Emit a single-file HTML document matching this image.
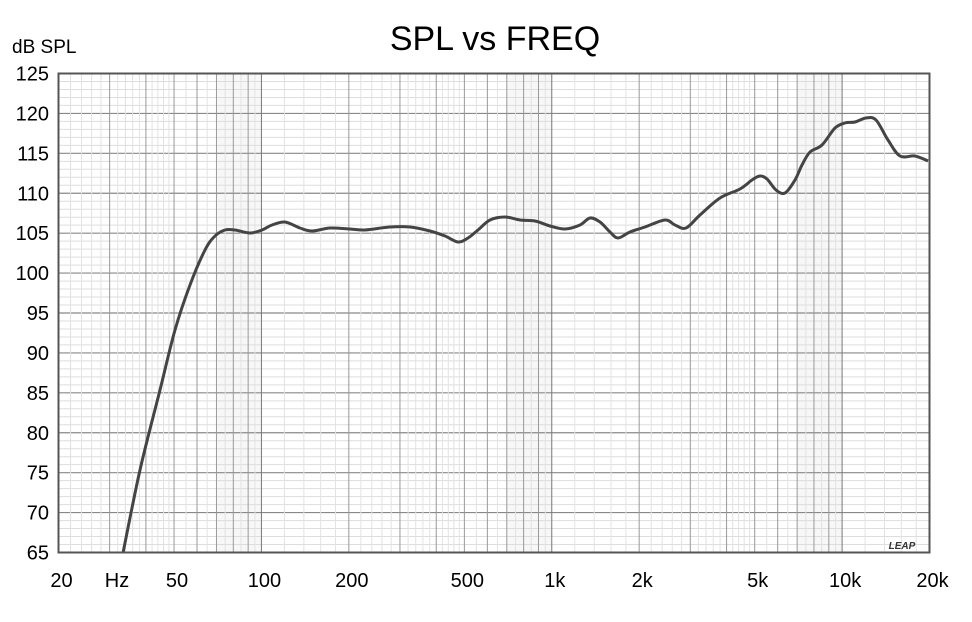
<!DOCTYPE html>
<html><head><meta charset="utf-8"><style>
body{margin:0;background:#fff;}
svg{display:block;font-family:"Liberation Sans",sans-serif;}
</style></head><body>
<svg id="s" width="972" height="622" xmlns="http://www.w3.org/2000/svg">
<text x="495" y="50" font-size="34" text-anchor="middle" fill="#000">SPL vs FREQ</text>
<text x="12" y="53" font-size="19" fill="#000">dB SPL</text>
<g id="grid"></g>
<path id="curve" fill="none" stroke="#444" stroke-width="3" stroke-linejoin="round" d=""/>
<rect x="58.5" y="73.5" width="871" height="479" fill="none" stroke="#555" stroke-width="2"/>
<text x="902" y="549" font-size="10" font-weight="bold" font-style="italic" text-anchor="middle" fill="#333">LEAP</text>
<g id="lab" font-size="20" fill="#000"></g>
</svg>
<script>
var ns="http://www.w3.org/2000/svg";
var L=58.5,R=929.5,T=73.5,B=552.5;
var pd=(R-L)/3;
function fx(f){return L+pd*Math.log10(f/20);}
var g=document.getElementById('grid'),lab=document.getElementById('lab');
function line(x1,y1,x2,y2,c,w){var l=document.createElementNS(ns,'line');l.setAttribute('x1',x1);l.setAttribute('y1',y1);l.setAttribute('x2',x2);l.setAttribute('y2',y2);l.setAttribute('stroke',c);l.setAttribute('stroke-width',w);g.appendChild(l);}
function txt(x,y,s,a){var t=document.createElementNS(ns,'text');t.setAttribute('x',x);t.setAttribute('y',y);t.setAttribute('text-anchor',a);t.textContent=s;lab.appendChild(t);}
[[70,100],[700,1000],[7000,10000]].forEach(function(b){var r=document.createElementNS(ns,'rect');r.setAttribute('x',fx(b[0]));r.setAttribute('y',T);r.setAttribute('width',fx(b[1])-fx(b[0]));r.setAttribute('height',B-T);r.setAttribute('fill','#f7f7f7');g.appendChild(r);});
for(var d=65;d<=125;d++){var y=B-(d-65)*(B-T)/60;if(d%5==0){line(L,y,R,y,'#888',1.2);txt(49,y+7,String(d),'end');}else line(L,y,R,y,'#ddd',1);}
var decs=[10,100,1000,10000];
decs.forEach(function(dec){for(var m=1;m<10;m++){var f=m*dec;
 var step=m<5?0.2:0.5;
 for(var s=m+step;s<m+1-1e-9;s+=step){var ff=s*dec;if(ff>20&&ff<20000){var x=fx(ff);line(x,T,x,B,'#e2e2e2',1);}}
 if(f>20&&f<20000){var x=fx(f);line(x,T,x,B,m==1?'#777':'#999',1);}
}});
var xl=[[20,'20'],[50,'50'],[100,'100'],[200,'200'],[500,'500'],[1000,'1k'],[2000,'2k'],[5000,'5k'],[10000,'10k'],[20000,'20k']];
xl.forEach(function(a){txt(fx(a[0])+3,587,a[1],'middle');});
txt(117,587,'Hz','middle');
var p=[[123,553],[140,470],[160,390],[175,330],[190,285],[205,250],[215,236],[225,230],[235,230],[250,233],[262,230],[272,225],[285,222],[300,228],[312,231],[330,228],[350,229],[365,230],[390,227],[410,227],[430,231],[445,236],[458,242],[468,238],[478,230],[490,220],[505,217],[520,220],[535,221],[550,226],[565,229],[580,225],[590,218],[600,222],[610,232],[618,238],[630,232],[645,227],[665,220],[675,225],[686,228],[700,215],[720,198],[740,189],[752,180],[760,176],[767,179],[776,190],[785,193],[795,180],[802,165],[810,152],[822,145],[835,128],[845,123],[855,122],[866,118],[876,120],[888,140],[900,156],[915,156],[928,161]];
var d='M'+p[0][0]+','+p[0][1];
for(var i=0;i<p.length-1;i++){var p0=p[Math.max(0,i-1)],p1=p[i],p2=p[i+1],p3=p[Math.min(p.length-1,i+2)];
 var c1x=p1[0]+(p2[0]-p0[0])/6,c1y=p1[1]+(p2[1]-p0[1])/6,c2x=p2[0]-(p3[0]-p1[0])/6,c2y=p2[1]-(p3[1]-p1[1])/6;
 d+=' C'+c1x+','+c1y+' '+c2x+','+c2y+' '+p2[0]+','+p2[1];}
document.getElementById('curve').setAttribute('d',d);
</script>
</body></html>
